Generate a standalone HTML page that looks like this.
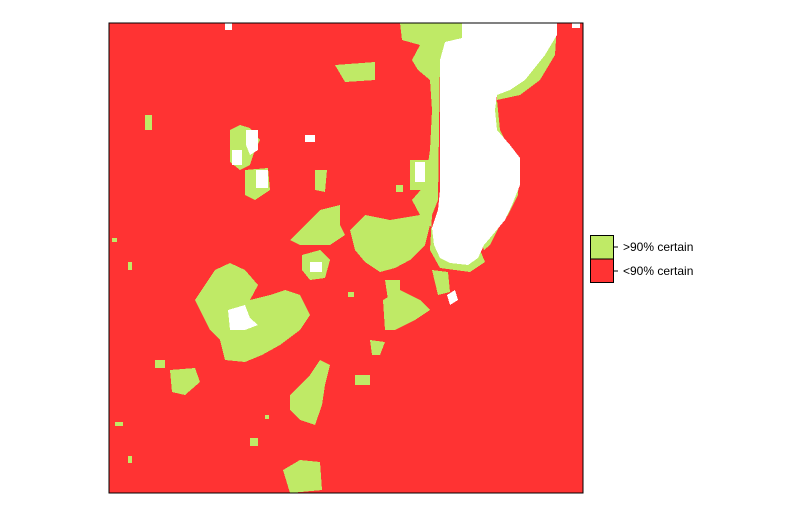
<!DOCTYPE html>
<html><head><meta charset="utf-8"><style>
body{margin:0;background:#fff;width:800px;height:518px;overflow:hidden;font-family:"Liberation Sans",sans-serif}
</style></head><body>
<svg width="800" height="518" shape-rendering="crispEdges">
<rect x="109" y="23" width="474" height="470" fill="#ff3333"/>
<g fill="#bfea66">
<polygon points="400,23 480,23 470,40 445,42 440,60 438,200 432,215 430,250 440,268 470,272 485,262 480,250 470,240 460,255 440,250 436,232 420,215 412,200 425,185 430,150 432,110 430,80 418,70 412,60 420,45 402,40"/>
<polygon points="545,30 557,25 555,55 540,80 520,95 497,100 497,90 510,85 530,70"/>
<polygon points="497,100 500,130 510,150 520,160 518,195 508,215 500,225 490,245 484,250 480,240 495,220 505,200 515,165 505,145 495,135 492,110"/>
<polygon points="410,160 432,160 432,190 410,190"/>
<polygon points="195,300 205,285 215,270 230,263 245,270 258,285 250,300 270,295 285,290 300,295 310,315 300,330 280,345 262,355 245,362 225,360 220,340 210,330 200,310"/>
<polygon points="290,240 305,225 320,210 340,205 340,225 345,235 330,245 312,245 300,245"/>
<polygon points="350,230 365,215 390,220 420,215 430,225 425,245 410,260 395,268 380,272 365,262 355,250"/>
<polygon points="302,255 320,250 330,260 325,278 310,280 302,270"/>
<polygon points="290,395 300,385 310,375 320,360 330,365 325,385 322,405 315,425 300,420 290,410"/>
<polygon points="170,370 195,368 200,382 185,395 172,392"/>
<polygon points="335,65 375,62 375,80 345,82"/>
<polygon points="230,130 240,125 250,128 260,140 255,150 250,165 240,170 230,162"/>
<polygon points="245,170 268,168 270,190 255,200 245,195"/>
<polygon points="383,300 400,290 420,300 430,310 415,320 395,330 385,330"/>
<polygon points="370,340 385,342 380,355 372,355"/>
<polygon points="283,470 300,460 320,462 322,490 290,493"/>
<polygon points="315,170 327,170 325,192 315,190"/>
<polygon points="385,280 400,280 400,300 388,300"/>
<polygon points="432,270 448,272 450,292 438,295"/>
<polygon points="145,115 152,115 152,130 145,130"/>
<polygon points="355,375 370,375 370,385 355,385"/>
<polygon points="155,360 165,360 165,368 155,368"/>
<polygon points="250,438 258,438 258,446 250,446"/>
<rect x="396" y="185" width="7" height="7"/>
<rect x="112" y="238" width="5" height="4"/>
<rect x="128" y="262" width="4" height="8"/>
<rect x="115" y="422" width="8" height="4"/>
<rect x="128" y="456" width="4" height="7"/>
<rect x="348" y="292" width="6" height="5"/>
<rect x="265" y="415" width="4" height="4"/>
</g>
<g fill="#ffffff">
<polygon points="462,23 557,23 557,35 545,55 525,80 510,90 497,95 495,110 497,130 510,145 520,158 520,185 512,205 505,220 490,238 484,245 478,258 468,265 450,263 440,258 434,245 432,228 438,210 440,190 440,140 440,60 445,42 462,38"/>
<polygon points="415,162 425,162 425,182 415,182"/>
<polygon points="228,310 245,305 250,318 258,325 245,330 230,330"/>
<polygon points="310,262 322,262 322,272 310,272"/>
<polygon points="246,130 258,130 258,150 250,155 246,145"/>
<polygon points="232,150 242,150 242,165 232,165"/>
<polygon points="256,170 268,170 268,188 256,188"/>
<polygon points="225,23 232,23 232,30 225,30"/>
<polygon points="305,135 315,135 315,142 305,142"/>
<polygon points="447,295 455,290 458,300 450,305"/>
<polygon points="572,23 580,23 580,28 572,28"/>
</g>
<rect x="109" y="23" width="474" height="470" fill="none" stroke="#000" stroke-width="1"/>
<g>
<rect x="590.5" y="235.5" width="23" height="23.5" fill="#bfea66" stroke="#000"/>
<rect x="590.5" y="259" width="23" height="23.5" fill="#ff3333" stroke="#000"/>
<line x1="613" y1="247" x2="618" y2="247" stroke="#000"/>
<line x1="613" y1="271" x2="618" y2="271" stroke="#000"/>
<text x="623" y="251" font-size="12" fill="#000">&gt;90% certain</text>
<text x="623" y="275" font-size="12" fill="#000">&lt;90% certain</text>
</g>
</svg>
</body></html>
